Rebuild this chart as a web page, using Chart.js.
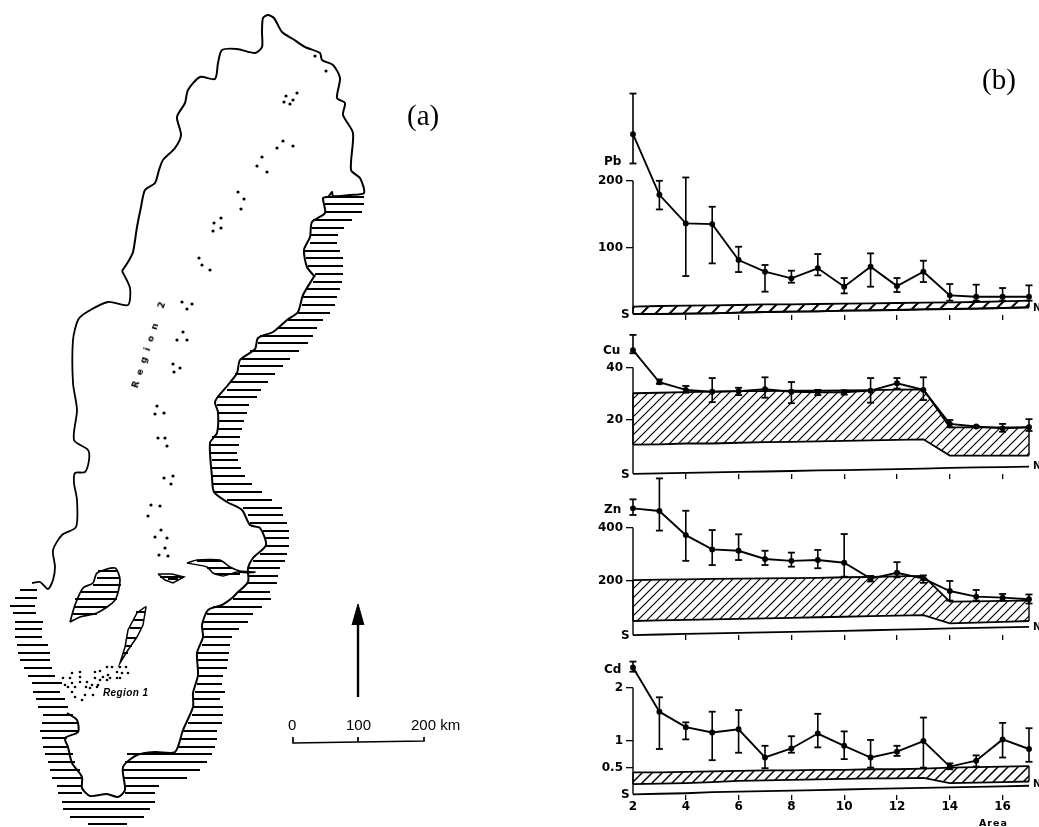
<!DOCTYPE html>
<html><head><meta charset="utf-8">
<script src="https://cdn.jsdelivr.net/npm/chart.js@4"></script>
<style>
html,body{margin:0;padding:0;background:#fff;width:1039px;height:827px;overflow:hidden}
canvas{position:absolute}
.t{position:absolute;color:#000;white-space:nowrap;line-height:1;font-family:"DejaVu Sans",sans-serif;font-weight:bold;z-index:5}
.s{font-family:"Liberation Serif",serif;font-weight:normal;font-size:29px}
.k{font-family:"Liberation Sans",sans-serif;font-weight:normal;font-size:15px}
</style></head><body>
<script>
// ---------- panel (b) data ----------
const areas=[2,3,4,5,6,7,8,9,10,11,12,13,14,15,16,17];
const xTickValues=[2,4,6,8,10,12,14,16];

const pbMean=[270,179,136,135,81,63.5,53.5,68.6,41,71,42,63.5,28,26,26,26];
const pbLow=[226,157,57,76,63,33.5,47,58,31,41,33,48,20,20,20,20];
const pbHigh=[331,200,205,161,101,73.6,65,90,54,91,54,80,45,44,39,43];
const pbHatchTop=[11,12,12.5,13,13.5,14.5,14.5,15,15.5,16,16.5,17,17.5,18,19,20];
const pbHatchBottom=[0,0,0.5,1,2,3,3.5,4,5,5.5,6,7,7.5,8,9,10];
const pbBase=pbHatchBottom;

const cuMean=[46.7,34.4,31.5,30.8,31,31.8,30.8,30.6,30.6,31.2,34,31.5,18.5,17.5,16.8,17.2];
const cuLow=[45.5,33.8,30.4,26.8,29.5,28.5,26.4,29.5,29.7,26.6,32,27.6,17.2,17.2,15.5,15.8];
const cuHigh=[52.5,35.5,33,36,32.3,36.3,34.5,31.5,31.3,36,36,36.3,20,17.7,18.5,20.3];
const cuHatchTop=[30.2,30.4,30.6,30.8,31,31,31.2,31.2,31.3,31.4,31.6,31.7,17.2,17.2,17.2,17.2];
const cuHatchBottom=[10.6,10.7,11,11,11.3,11.5,11.6,11.8,12,12.2,12.4,12.6,6.4,6.4,6.4,6.4];
const cuBase=[-0.6,-0.4,-0.2,0,0.2,0.3,0.5,0.7,0.8,1,1.2,1.4,1.7,1.9,2,2.2];

const znMean=[473,463,372,318,313,282,275,278,268,208,230,208,161,140,136,130];
const znLow=[448,389,275,259,278,259,253,247,215,197,213,192,125,125,125,114];
const znHigh=[507,586,464,391,375,313,306,316,376,218,270,220,199,165,150,148];
const znHatchTop=[202,204,205,207,208,209,210,211,213,214,216,218,121,122,124,125];
const znHatchBottom=[48,50,52,54,56,58,60,62,64,66,68,70,39,42,45,48];
const znBase=[-5,-3,-1,1,3,5,7,9,11,13,15,17,20,22,24,26];

const cdMean=[2.38,1.55,1.26,1.16,1.22,0.69,0.86,1.14,0.91,0.69,0.8,1.0,0.52,0.63,1.03,0.85];
const cdLow=[2.3,0.85,1.03,0.64,0.78,0.49,0.78,0.88,0.66,0.5,0.72,0.5,0.47,0.52,0.69,0.61];
const cdHigh=[2.49,1.82,1.35,1.55,1.58,0.91,1.09,1.51,1.18,1.02,0.91,1.44,0.58,0.73,1.34,1.24];
const cdHatchTop=[0.41,0.41,0.42,0.43,0.44,0.45,0.45,0.46,0.46,0.47,0.47,0.48,0.5,0.51,0.52,0.53];
const cdHatchBottom=[0.19,0.2,0.21,0.23,0.25,0.26,0.27,0.28,0.29,0.3,0.3,0.31,0.21,0.22,0.23,0.24];
const cdBase=[0,0.01,0.02,0.04,0.05,0.06,0.07,0.08,0.09,0.1,0.11,0.12,0.13,0.14,0.15,0.16];

const pbTicks=[100,200], pbTickLabels=['100','200'];
const cuTicks=[20,40], cuTickLabels=['20','40'];
const znTicks=[200,400], znTickLabels=['200','400'];
const cdTicks=[0.5,1,2], cdTickLabels=['0.5','1','2'];

// ---------- panel (a) map data, in map units ----------
const northBorder=[[122,271],[128,262],[133,252],[137,227],[141,207],[145,190],[155,183],[159,170],[163,160],[175,148],[181,135],[177,117],[185,103],[188,90],[200,77],[215,79],[218,63],[222,50],[237,49],[255,53],[262,47],[262,32],[263,18],[268,15],[274,18],[282,32],[293,39],[305,47],[320,53],[322,60],[333,65],[340,78],[337,98],[345,103],[343,115],[353,133],[351,170],[360,178],[364,193],[350,195],[333,196],[332,192],[328,197],[323,198],[325,213],[312,222],[310,237],[304,250],[307,267],[315,277]];
const eastCoast=[[315,275],[303,295],[298,312],[287,320],[273,332],[258,338],[255,349],[240,360],[237,373],[228,385],[217,398],[215,403],[218,412],[217,433],[210,443],[212,477],[214,492],[227,502],[242,510],[250,525],[260,528],[266,545],[253,558],[248,568],[248,582],[237,593],[232,598],[222,605],[208,610],[202,625],[203,637],[197,653],[198,675],[193,693],[193,707],[183,730],[175,752],[155,752],[137,755],[123,767],[125,790],[118,797],[107,794],[90,796],[82,788],[82,777],[72,763],[68,747],[65,738],[78,732],[77,720],[67,713]];
const westBorder=[[122,271],[130,288],[128,305],[108,302],[87,312],[78,320],[73,340],[73,383],[77,410],[74,440],[88,450],[89,460],[85,472],[75,473],[74,483],[77,500],[76,527],[62,535],[53,550],[55,567],[53,580],[48,589],[40,582],[32,583]];
const vanern=[[70,622],[75,605],[83,588],[93,583],[97,573],[115,568],[120,580],[115,600],[97,613],[80,617],[70,622]];
const vattern=[[145,607],[137,613],[128,630],[125,647],[120,663],[128,650],[137,637],[143,625],[146,607],[145,607]];
const malaren=[[187,563],[197,560],[220,560],[230,567],[240,571],[255,572],[248,573],[237,572],[223,576],[213,573],[207,567],[187,563]];
const hjalmaren=[[158,574],[172,574],[184,577],[173,583],[165,580],[158,574]];
const coastRows=[[197,325,364],[204,325,364],[212,325,362],[220,313,352],[228,312,344],[235,310,338],[243,310,337],[251,305,340],[258,306,343],[266,308,343],[274,315,343],[282,313,342],[289,307,340],[297,303,337],[305,302,335],[313,298,330],[320,288,323],[328,278,317],[336,260,313],[343,258,308],[351,250,299],[359,242,290],[366,240,283],[374,235,275],[382,230,268],[390,227,261],[397,217,257],[405,217,249],[413,218,247],[421,218,244],[429,217,242],[437,212,240],[445,210,239],[453,211,237],[460,212,238],[468,212,241],[476,212,245],[484,213,252],[492,214,262],[500,227,272],[508,243,282],[515,248,283],[523,250,287],[531,263,289],[538,264,289],[546,265,289],[554,260,287],[561,253,285],[568,248,280],[576,248,278],[583,248,277],[592,238,270],[599,233,271],[607,213,262],[614,207,253],[622,203,248],[629,202,239],[637,203,232],[645,202,230],[653,197,229],[660,198,228],[668,198,227],[676,197,223],[684,197,222],[692,195,225],[699,193,220],[707,193,223],[715,192,223],[723,188,222],[731,183,217],[739,180,217],[747,177,215],[754,127,212],[762,125,207],[770,123,200],[778,123,187],[786,126,159],[793,125,155],[802,62,155],[809,63,150],[817,70,144],[824,88,127]];
const westRows=[[590,20,37],[598,15,37],[606,10,35],[613,13,36],[622,15,43],[629,15,42],[637,15,42],[645,17,48],[653,18,50],[660,20,50],[668,24,52],[676,28,55],[683,32,62],[692,33,60],[699,36,65],[707,38,68],[715,43,73],[723,42,78],[731,40,79],[738,42,67],[747,43,68],[754,45,73],[762,48,75],[770,50,80],[778,52,82],[786,57,82],[793,58,82]];
const lakeRows=[[571,98,117],[578,97,120],[585,93,121],[592,80,118],[599,75,117],[607,74,107],[614,73,97],[612,136,145],[620,133,144],[628,130,142],[638,127,137],[646,125,132],[653,123,128],[561,197,222],[568,207,232],[574,215,240],[577,160,184],[579,168,178]];
const region2Sites=[[315,56],[326,71],[286,96],[297,93],[293,100],[284,102],[290,104],[283,141],[293,146],[277,148],[262,157],[257,166],[267,172],[238,192],[244,199],[241,209],[221,218],[214,223],[221,228],[213,231],[199,258],[202,265],[210,270],[182,302],[192,304],[187,309],[183,332],[177,340],[187,340],[173,364],[180,368],[174,372],[157,406],[155,414],[164,413],[158,438],[165,438],[167,446],[173,476],[164,478],[171,484],[151,505],[160,506],[148,516],[161,530],[155,537],[167,538],[165,548],[159,555],[168,556]];
const region1Sites=[[63,678],[70,678],[72,673],[80,672],[80,677],[72,683],[68,687],[75,687],[80,682],[87,682],[95,672],[100,671],[107,667],[112,667],[120,667],[126,667],[117,672],[128,673],[122,673],[120,678],[108,675],[103,677],[110,678],[107,680],[100,680],[98,685],[97,687],[92,685],[86,687],[90,688],[85,695],[93,695],[75,697],[82,700],[72,692],[65,685],[117,678],[95,678]];
const northArrow=[[358,697],[358,622]];
const northArrowHead=[[352,625],[358,604],[364,625]];
const scaleBar=[[293,737],[293,743],[358,742],[424,741],[424,737]];
const scaleTick=[[358,737],[358,742]];

Chart.defaults.animation=false;
Chart.defaults.font.family='"DejaVu Sans",sans-serif';
Chart.defaults.plugins.legend.display=false;
Chart.defaults.plugins.tooltip.enabled=false;

function addCanvas(l,t,w,h){const c=document.createElement('canvas');c.width=w;c.height=h;c.style.cssText=`left:${l}px;top:${t}px;width:${w}px;height:${h}px`;document.body.appendChild(c);return c;}
function addText(txt,l,t,size,extra,cls){const d=document.createElement('div');d.className='t'+(cls?' '+cls:'');d.textContent=txt;d.style.left=l+'px';d.style.top=t+'px';if(size)d.style.fontSize=size+'px';if(extra)d.style.cssText+=extra;document.body.appendChild(d);}
const pts=a=>a.map(p=>({x:p[0],y:p[1]}));
const rows=r=>r.flatMap(q=>[{x:q[1],y:q[0]},{x:q[2],y:q[0]},{x:null,y:null}]);
const lineDs=(data,w)=>({data,showLine:true,borderColor:'#000',borderWidth:w,pointRadius:0,tension:0,spanGaps:false,fill:false});

// ---------- map ----------
new Chart(addCanvas(0,0,590,827),{type:'scatter',data:{datasets:[
  {...lineDs(pts(northBorder),2),tension:0.25},
  {...lineDs(pts(eastCoast),2),tension:0.25},
  {...lineDs(pts(westBorder),1.8),tension:0.25},
  {...lineDs(pts(vanern),1.7),tension:0.25},
  lineDs(pts(vattern),1.5),
  {...lineDs(pts(malaren),1.5),tension:0.2},
  lineDs(pts(hjalmaren),1.5),
  lineDs(rows(coastRows),2.2),
  lineDs(rows(westRows),2.2),
  lineDs(rows(lakeRows),2),
  {data:pts(region2Sites),pointRadius:1.6,backgroundColor:'#000',borderWidth:0},
  {data:pts(region1Sites),pointRadius:1.3,backgroundColor:'#000',borderWidth:0},
  lineDs(pts(northArrow),2.4),
  {...lineDs(pts(northArrowHead),1),fill:{target:{value:625}},backgroundColor:'#000'},
  lineDs(pts(scaleBar),1.7),
  lineDs(pts(scaleTick),1)
]},options:{responsive:false,layout:{padding:0,autoPadding:false},scales:{
  x:{type:'linear',min:0,max:590,display:false},
  y:{type:'linear',min:0,max:827,reverse:true,display:false}}}});

// ---------- panels ----------
function hatch(s,w){const c=document.createElement('canvas');c.width=c.height=s;const g=c.getContext('2d');g.strokeStyle='#000';g.lineWidth=w;g.lineCap='square';
  g.beginPath();g.moveTo(-1,s+1);g.lineTo(s+1,-1);g.moveTo(-1,1);g.lineTo(1,-1);g.moveTo(s-1,s+1);g.lineTo(s+1,s-1);g.stroke();return g.createPattern(c,'repeat');}

function panel(o){
  const H=o.bottom-o.top+o.axisH;
  const max=(o.zero-o.top)/o.ppu,min=(o.zero-o.bottom)/o.ppu;
  const topTick=o.ticks[o.ticks.length-1];
  const stems=areas.flatMap((a,i)=>[{x:a,y:o.low[i]},{x:a,y:o.high[i]},{x:null,y:null}]);
  const caps=areas.flatMap((a,i)=>[{x:a,y:o.low[i]},{x:a,y:o.high[i]}]);
  const atArea=arr=>areas.map((a,i)=>({x:a,y:arr[i]}));
  new Chart(addCanvas(590,o.top,449,H),{type:'scatter',data:{datasets:[
    {...lineDs(atArea(o.hTop),1.8),fill:'+1',backgroundColor:hatch(o.hs,o.hw),clip:false},
    {...lineDs(atArea(o.hBot),1.8),clip:false},
    {...lineDs([{x:17,y:o.hTop[15]},{x:17,y:o.hBot[15]}],1.4),clip:false},
    {...lineDs([{x:2,y:o.hTop[0]},{x:2,y:o.hBot[0]}],1.4),clip:false},
    {...lineDs(atArea(o.base),1.8),clip:false},
    {...lineDs([{x:2,y:o.base[0]},{x:2,y:topTick}],1.4),clip:false},
    {...lineDs(stems,1.6),clip:false},
    {data:caps,pointStyle:'line',pointRadius:3.5,borderColor:'#000',borderWidth:1.8,backgroundColor:'#000',clip:false},
    {...lineDs(atArea(o.mean),1.9),pointRadius:2,backgroundColor:'#000',pointBackgroundColor:'#000',clip:false}
  ]},options:{responsive:false,layout:{padding:{left:0,right:10,top:0,bottom:0},autoPadding:false},scales:{
    x:{type:'linear',min:2,max:17,
      afterBuildTicks:s=>{s.ticks=xTickValues.map(v=>({value:v}));},
      afterFit:s=>{s.height=o.axisH;s.paddingLeft=0;s.paddingRight=0;},
      border:{display:false},
      grid:{drawOnChartArea:false,drawTicks:true,tickLength:5,color:'#000',lineWidth:1.3,tickColor:c=>c.tick&&c.tick.value===2?'transparent':'#000'},
      ticks:{display:o.showX,color:'#000',padding:0,maxRotation:0,autoSkip:false,font:{size:12,weight:'bold'}}},
    y:{type:'linear',min,max,
      afterBuildTicks:s=>{s.ticks=o.ticks.map(v=>({value:v}));},
      afterFit:s=>{s.width=43;s.paddingTop=0;s.paddingBottom=0;},
      border:{display:false},
      grid:{drawOnChartArea:false,drawTicks:true,tickLength:7,lineWidth:1.3,tickColor:'#000'},
      ticks:{color:'#000',padding:3,autoSkip:false,font:{size:12,weight:'bold'},
        callback:v=>o.labels[o.ticks.indexOf(v)]}}
  }}});
}
panel({top:85,bottom:315,zero:314,ppu:0.666,axisH:10,showX:false,mean:pbMean,low:pbLow,high:pbHigh,hTop:pbHatchTop,hBot:pbHatchBottom,base:pbBase,ticks:pbTicks,labels:pbTickLabels,hs:14,hw:2});
panel({top:325,bottom:474,zero:472.3,ppu:2.617,axisH:10,showX:false,mean:cuMean,low:cuLow,high:cuHigh,hTop:cuHatchTop,hBot:cuHatchBottom,base:cuBase,ticks:cuTicks,labels:cuTickLabels,hs:9,hw:1.2});
panel({top:470,bottom:635,zero:633.7,ppu:0.265,axisH:10,showX:false,mean:znMean,low:znLow,high:znHigh,hTop:znHatchTop,hBot:znHatchBottom,base:znBase,ticks:znTicks,labels:znTickLabels,hs:9,hw:1.2});
panel({top:655,bottom:795,zero:794.3,ppu:53.3,axisH:25,showX:true,mean:cdMean,low:cdLow,high:cdHigh,hTop:cdHatchTop,hBot:cdHatchBottom,base:cdBase,ticks:cdTicks,labels:cdTickLabels,hs:10,hw:1.5});

// ---------- text ----------
addText('(a)',407,101,0,'','s');
addText('(b)',982,65,0,'','s');
addText('Pb',604,155,12);
addText('Cu',603,344,12);
addText('Zn',604,503,12);
addText('Cd',604,663,12);
addText('S',621,308,12);addText('S',621,468,12);addText('S',621,629,12);addText('S',621,788,12);
addText('N',1033,303,10);
addText('N',1033,461,10);
addText('N',1033,622,10);
addText('N',1033,779,10);
addText('Area',979,818,9.5,'letter-spacing:1px');
addText('Region 1',103,688,10,'font-family:"Liberation Sans",sans-serif;font-style:italic;font-weight:bold;letter-spacing:.4px');
addText('Region 2',150,342,9,'letter-spacing:6.5px;transform:translate(-50%,-50%) rotate(-72deg)');
addText('0',288,717,0,'','k');
addText('100',346,717,0,'','k');
addText('200 km',411,717,0,'','k');
</script>
</body></html>
